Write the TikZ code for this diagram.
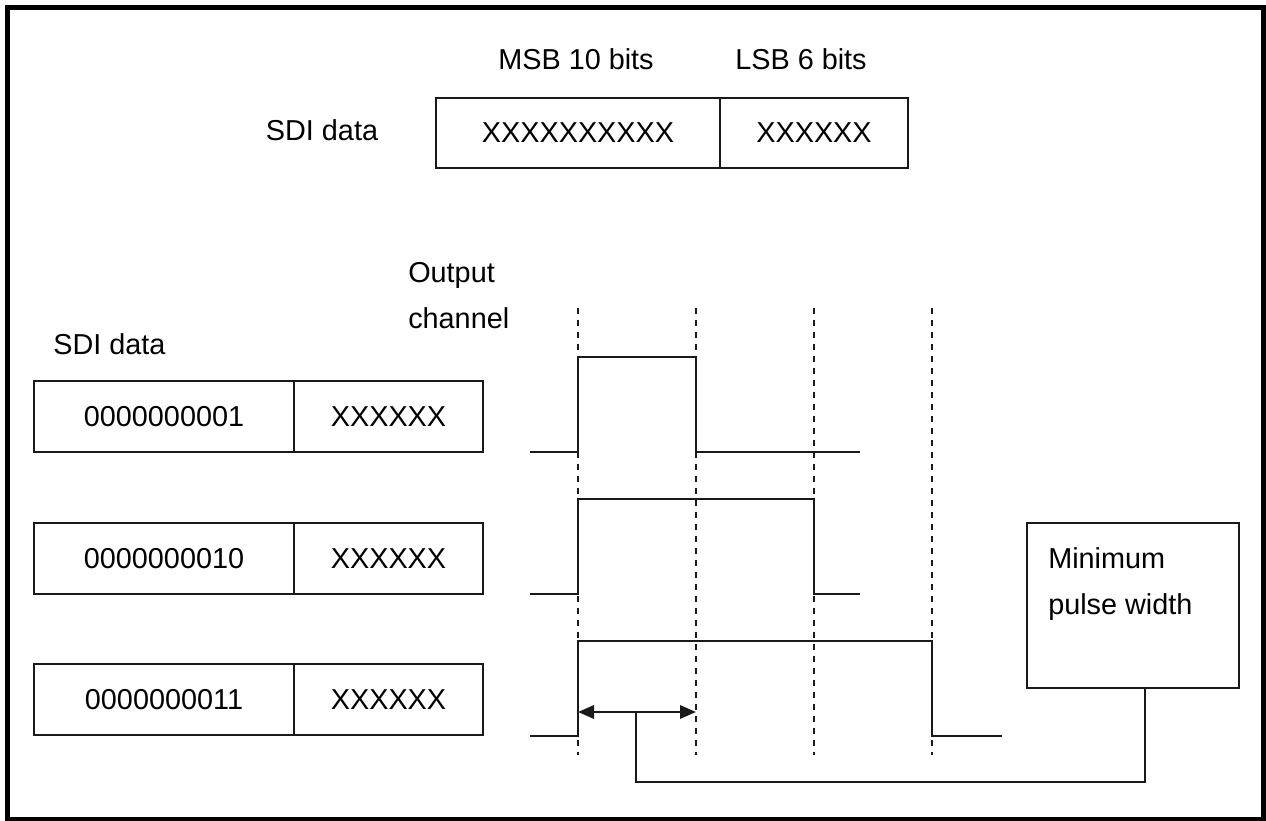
\documentclass[tikz,border=0pt]{standalone}
\usepackage{fontspec}
\setmainfont{Liberation Sans}
\usetikzlibrary{arrows.meta}
\definecolor{Linie}{HTML}{1A1A1A}

\begin{document}
\begin{tikzpicture}[x=0.25mm, y=-0.25mm,
  schrift/.style={font=\fontsize{20.5}{33}\selectfont, text=black},
  feld/.style={schrift, draw=Linie, line width=0.45mm, inner sep=0pt, outer sep=0pt},
  signal/.style={draw=Linie, line width=0.5mm},
  taktlinie/.style={draw=Linie, line width=0.45mm, dash pattern=on 1.5mm off 1.5mm}]

  % Hintergrund und Rahmen (1266 x 821 Einheiten)
  \useasboundingbox (0,0) rectangle (1266,821);
  \fill[white] (0,0) rectangle (1266,821);
  \draw[line width=1.1mm] (7.5,7.5) rectangle (1263.5,819);

  % Aufbau des SDI-Datenworts oben
  \node[schrift, anchor=base] (sdioben) at (322,140) {SDI data};
  \node[feld, anchor=north west, minimum width=71mm, minimum height=17.5mm] (msb) at (436,98) {XXXXXXXXXX};
  \node[feld, anchor=north west, minimum width=47mm, minimum height=17.5mm] (lsb) at (msb.north east) {XXXXXX};
  \node[schrift, anchor=base] (msbtitel) at (576,69) {MSB 10 bits};
  \node[schrift, anchor=base] (lsbtitel) at (801,69) {LSB 6 bits};

  % Beschriftung der Spalten
  \node[schrift, anchor=base west, inner sep=0pt] (sdiunten) at (53,354) {SDI data};
  \node[schrift, anchor=north west, inner sep=0pt, align=left] (ausgang) at (408,262) {Output\\channel};

  % Makro fuer eine Zeile mit Datenwort
  % Parameter: 1=Nummer, 2=y (Oberkante), 3=MSB-Text
  \def\datenzeile#1#2#3{
    \node[feld, anchor=north west, minimum width=65mm, minimum height=17.75mm] (code#1) at (34,#2) {#3};
    \node[feld, anchor=north west, minimum width=47.25mm, minimum height=17.75mm] (rest#1) at (code#1.north east) {XXXXXX};
  }

  \datenzeile{1}{381}{0000000001}
  \datenzeile{2}{523}{0000000010}
  \datenzeile{3}{664}{0000000011}

  % Gestrichelte Taktlinien
  \foreach \x [count=\i] in {578,696,814,932} {
    \draw[taktlinie] (\x,308) -- (\x,755);
    \coordinate (t\i) at (\x,712);
  }

  % Makro fuer einen Ausgangspuls
  % Parameter: 1=y (low), 2=y (high), 3=x Abfall, 4=x Ende
  \def\puls#1#2#3#4{
    \draw[signal] (530,#1) -- (578,#1) -- (578,#2) -- (#3,#2) -- (#3,#1) -- (#4,#1);
  }

  \puls{452}{357}{696}{860}
  \puls{594}{499}{814}{860}
  \puls{736}{641}{932}{1002}

  % Minimale Pulsbreite
  \draw[line width=0.65mm, draw=Linie, {Triangle[length=4mm, width=3.3mm]}-{Triangle[length=4mm, width=3.3mm]}] (t1) -- (t2);
  \node[draw=Linie, line width=0.45mm, outer sep=0pt, anchor=north west, minimum width=53mm, minimum height=41.25mm] (minbox) at (1027,523) {};
  \node[schrift, anchor=north west, inner sep=0pt, align=left] (mintext) at (1048,547) {Minimum\\pulse width};
  \coordinate (abzweig) at (636,712);
  \draw[signal] (abzweig) -- ++(0,70) -| ([xshift=3mm]minbox.south);

\end{tikzpicture}
\end{document}
